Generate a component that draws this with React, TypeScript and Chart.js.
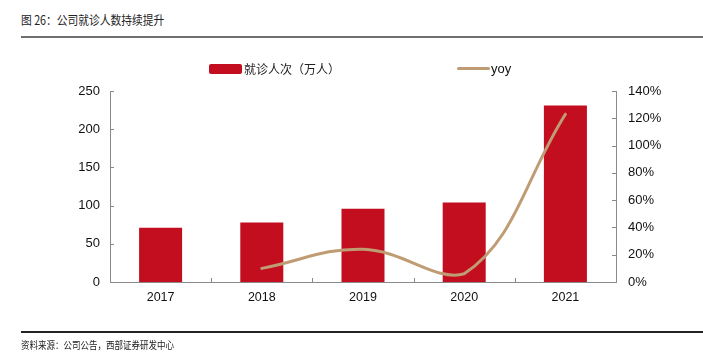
import React, { useEffect, useRef } from "react";
import { Chart, registerables } from "chart.js";

Chart.register(...registerables);

const categories = ["2017", "2018", "2019", "2020", "2021"];
const visits = [71, 78, 96, 104, 231];
const yoy: (number | null)[] = [null, 10, 24, 6, 123];
const leftMax = 250;
const leftStep = 50;
const rightMax = 140;
const rightStep = 20;

const titleText = "图 26：公司就诊人数持续提升";
const sourceText = "资料来源：公司公告，西部证券研发中心";
const barLabel = "就诊人次（万人）";
const lineLabel = "yoy";

const BAR_COLOR = "#C20E1E";
const LINE_COLOR = "#C09C74";
const AXIS_COLOR = "#8a8a8a";
const LATIN = "'Liberation Sans', Arial, sans-serif";
const CJK = "'Noto Sans CJK SC', 'Noto Sans', sans-serif";

const innerTicks = {
  id: "innerTicks",
  afterDraw(chart: any) {
    const ctx = chart.ctx;
    const { x, y, y1 } = chart.scales;
    ctx.save();
    ctx.strokeStyle = AXIS_COLOR;
    ctx.lineWidth = 1;
    const seg = (a: number, b: number, c: number, d: number) => {
      ctx.beginPath();
      ctx.moveTo(a, b);
      ctx.lineTo(c, d);
      ctx.stroke();
    };
    y.ticks.forEach((_: any, i: number) => {
      const py = Math.round(y.getPixelForTick(i)) + 0.5;
      seg(y.right, py, y.right + 4, py);
    });
    y1.ticks.forEach((_: any, i: number) => {
      const py = Math.round(y1.getPixelForTick(i)) + 0.5;
      seg(y1.left - 4, py, y1.left, py);
    });
    for (let i = 1; i < categories.length; i++) {
      const px = Math.round((x.getPixelForTick(i - 1) + x.getPixelForTick(i)) / 2) + 0.5;
      seg(px, x.top, px, x.top - 4);
    }
    ctx.restore();
  },
};

export default function App() {
  const ref = useRef<HTMLCanvasElement>(null);

  useEffect(() => {
    if (!ref.current) return;
    const chart = new Chart(ref.current, {
      type: "bar",
      data: {
        labels: categories,
        datasets: [
          {
            type: "line",
            label: lineLabel,
            data: yoy as any,
            yAxisID: "y1",
            borderColor: LINE_COLOR,
            backgroundColor: LINE_COLOR,
            borderWidth: 3,
            pointRadius: 0,
            tension: 0.4,
            order: 0,
            borderCapStyle: "round",
          } as any,
          {
            type: "bar",
            label: barLabel,
            data: visits,
            yAxisID: "y",
            backgroundColor: BAR_COLOR,
            categoryPercentage: 1,
            barPercentage: 0.425,
            order: 1,
          },
        ],
      },
      options: {
        responsive: false,
        animation: false,
        devicePixelRatio: 1,
        layout: { padding: { top: 91, bottom: 50, left: 0, right: 0 } },
        plugins: { legend: { display: false }, tooltip: { enabled: false } },
        scales: {
          x: {
            grid: { display: false, drawTicks: false },
            border: { color: AXIS_COLOR, width: 1 },
            ticks: { color: "#111", font: { family: LATIN, size: 12.5 }, padding: 8 },
            afterFit: (s: any) => {
              s.height = 30;
            },
          },
          y: {
            position: "left",
            min: 0,
            max: leftMax,
            grid: { display: false, drawTicks: false },
            border: { color: AXIS_COLOR, width: 1 },
            ticks: { stepSize: leftStep, color: "#111", font: { family: LATIN, size: 13 }, padding: 10 },
            afterFit: (s: any) => {
              s.width = 110;
            },
          },
          y1: {
            position: "right",
            min: 0,
            max: rightMax,
            grid: { display: false, drawTicks: false },
            border: { color: AXIS_COLOR, width: 1 },
            ticks: {
              stepSize: rightStep,
              color: "#111",
              font: { family: LATIN, size: 13 },
              padding: 12,
              callback: (v: any) => v + "%",
            },
            afterFit: (s: any) => {
              s.width = 87;
            },
          },
        },
      },
      plugins: [innerTicks],
    });
    return () => chart.destroy();
  }, []);

  return (
    <div style={{ position: "absolute", left: 0, top: 0, width: 703, height: 362, background: "#fff", overflow: "hidden" }}>
      <div
        style={{
          position: "absolute",
          left: 21,
          top: 12,
          fontFamily: CJK,
          fontSize: 12.5,
          color: "#222",
          whiteSpace: "nowrap",
          transform: "scaleX(0.86)",
          transformOrigin: "left center",
          lineHeight: "16px",
        }}
      >
        {titleText}
      </div>
      <div style={{ position: "absolute", left: 21, top: 36, width: 682, height: 2, background: "#6f6f6f" }} />
      <canvas ref={ref} width={703} height={362} style={{ position: "absolute", left: 0, top: 0 }} />
      <div style={{ position: "absolute", left: 209, top: 64, width: 33, height: 10, background: BAR_COLOR, borderRadius: 2 }} />
      <div
        style={{
          position: "absolute",
          left: 244,
          top: 60,
          fontFamily: CJK,
          fontSize: 12,
          color: "#222",
          whiteSpace: "nowrap",
          lineHeight: "18px",
        }}
      >
        {barLabel}
      </div>
      <div style={{ position: "absolute", left: 457, top: 67, width: 33, height: 3, background: LINE_COLOR, borderRadius: 2 }} />
      <div
        style={{
          position: "absolute",
          left: 491,
          top: 60,
          fontFamily: LATIN,
          fontSize: 13,
          color: "#111",
          whiteSpace: "nowrap",
          lineHeight: "18px",
        }}
      >
        {lineLabel}
      </div>
      <div style={{ position: "absolute", left: 21, top: 331, width: 682, height: 2, background: "#222" }} />
      <div
        style={{
          position: "absolute",
          left: 21,
          top: 338,
          fontFamily: CJK,
          fontSize: 10,
          color: "#222",
          whiteSpace: "nowrap",
          transform: "scaleX(0.85)",
          transformOrigin: "left center",
          lineHeight: "14px",
        }}
      >
        {sourceText}
      </div>
    </div>
  );
}
